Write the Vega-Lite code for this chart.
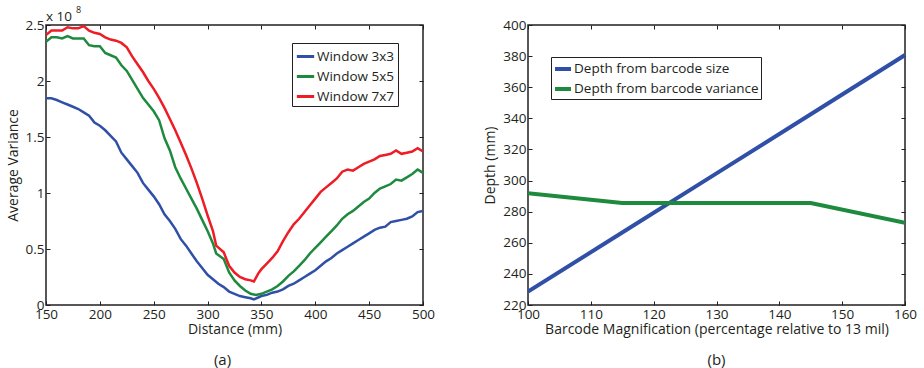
{
  "$schema": "https://vega.github.io/schema/vega-lite/v6.json",
  "background": "white",
  "padding": {"left": 5, "top": 5, "right": 5, "bottom": 0},
  "bounds": "flush",
  "spacing": 105,
  "resolve": {"scale": {"color": "independent"}, "legend": {"color": "independent"}},
  "config": {
    "font": "Open Sans",
    "view": {"stroke": "#231F20", "strokeWidth": 1.5},
    "axis": {
      "grid": false,
      "domain": false,
      "tickSize": -4,
      "tickColor": "#231F20",
      "tickWidth": 1,
      "labelPadding": 6,
      "labelColor": "#231F20",
      "labelFontSize": 13.5,
      "labelFlush": false,
      "labelOverlap": false,
      "titleColor": "#231F20",
      "titleFontSize": 14,
      "titleFontWeight": "normal"
    },
    "legend": {"labelLimit": 0},
    "title": {"fontSize": 15, "fontWeight": "normal", "color": "#231F20", "orient": "bottom", "frame": "group"}
  },
  "datasets": {
    "variance": [
      {"d": 150, "w": "Window 3x3", "v": 1.845}, {"d": 155, "w": "Window 3x3", "v": 1.845}, {"d": 160, "w": "Window 3x3", "v": 1.83}, {"d": 165, "w": "Window 3x3", "v": 1.81}, {"d": 170, "w": "Window 3x3", "v": 1.79}, {"d": 175, "w": "Window 3x3", "v": 1.77}, {"d": 180, "w": "Window 3x3", "v": 1.75}, {"d": 185, "w": "Window 3x3", "v": 1.72}, {"d": 190, "w": "Window 3x3", "v": 1.69}, {"d": 195, "w": "Window 3x3", "v": 1.63}, {"d": 200, "w": "Window 3x3", "v": 1.6}, {"d": 205, "w": "Window 3x3", "v": 1.56}, {"d": 210, "w": "Window 3x3", "v": 1.51}, {"d": 215, "w": "Window 3x3", "v": 1.46}, {"d": 220, "w": "Window 3x3", "v": 1.36}, {"d": 225, "w": "Window 3x3", "v": 1.3}, {"d": 230, "w": "Window 3x3", "v": 1.24}, {"d": 235, "w": "Window 3x3", "v": 1.18}, {"d": 240, "w": "Window 3x3", "v": 1.09}, {"d": 245, "w": "Window 3x3", "v": 1.03}, {"d": 250, "w": "Window 3x3", "v": 0.97}, {"d": 255, "w": "Window 3x3", "v": 0.9}, {"d": 260, "w": "Window 3x3", "v": 0.81}, {"d": 265, "w": "Window 3x3", "v": 0.75}, {"d": 270, "w": "Window 3x3", "v": 0.68}, {"d": 275, "w": "Window 3x3", "v": 0.59}, {"d": 280, "w": "Window 3x3", "v": 0.53}, {"d": 285, "w": "Window 3x3", "v": 0.46}, {"d": 290, "w": "Window 3x3", "v": 0.39}, {"d": 295, "w": "Window 3x3", "v": 0.33}, {"d": 300, "w": "Window 3x3", "v": 0.27}, {"d": 305, "w": "Window 3x3", "v": 0.23}, {"d": 310, "w": "Window 3x3", "v": 0.19}, {"d": 315, "w": "Window 3x3", "v": 0.16}, {"d": 320, "w": "Window 3x3", "v": 0.12}, {"d": 325, "w": "Window 3x3", "v": 0.1}, {"d": 330, "w": "Window 3x3", "v": 0.08}, {"d": 335, "w": "Window 3x3", "v": 0.07}, {"d": 340, "w": "Window 3x3", "v": 0.06}, {"d": 343, "w": "Window 3x3", "v": 0.05}, {"d": 350, "w": "Window 3x3", "v": 0.08}, {"d": 355, "w": "Window 3x3", "v": 0.09}, {"d": 360, "w": "Window 3x3", "v": 0.11}, {"d": 365, "w": "Window 3x3", "v": 0.12}, {"d": 370, "w": "Window 3x3", "v": 0.14}, {"d": 375, "w": "Window 3x3", "v": 0.17}, {"d": 380, "w": "Window 3x3", "v": 0.19}, {"d": 385, "w": "Window 3x3", "v": 0.22}, {"d": 390, "w": "Window 3x3", "v": 0.25}, {"d": 395, "w": "Window 3x3", "v": 0.28}, {"d": 400, "w": "Window 3x3", "v": 0.31}, {"d": 405, "w": "Window 3x3", "v": 0.35}, {"d": 410, "w": "Window 3x3", "v": 0.39}, {"d": 415, "w": "Window 3x3", "v": 0.42}, {"d": 420, "w": "Window 3x3", "v": 0.46}, {"d": 425, "w": "Window 3x3", "v": 0.49}, {"d": 430, "w": "Window 3x3", "v": 0.52}, {"d": 435, "w": "Window 3x3", "v": 0.55}, {"d": 440, "w": "Window 3x3", "v": 0.58}, {"d": 445, "w": "Window 3x3", "v": 0.61}, {"d": 450, "w": "Window 3x3", "v": 0.64}, {"d": 455, "w": "Window 3x3", "v": 0.67}, {"d": 460, "w": "Window 3x3", "v": 0.69}, {"d": 465, "w": "Window 3x3", "v": 0.7}, {"d": 470, "w": "Window 3x3", "v": 0.74}, {"d": 475, "w": "Window 3x3", "v": 0.75}, {"d": 480, "w": "Window 3x3", "v": 0.76}, {"d": 485, "w": "Window 3x3", "v": 0.77}, {"d": 490, "w": "Window 3x3", "v": 0.79}, {"d": 495, "w": "Window 3x3", "v": 0.83}, {"d": 500, "w": "Window 3x3", "v": 0.84},
      {"d": 150, "w": "Window 5x5", "v": 2.35}, {"d": 155, "w": "Window 5x5", "v": 2.39}, {"d": 160, "w": "Window 5x5", "v": 2.39}, {"d": 165, "w": "Window 5x5", "v": 2.38}, {"d": 170, "w": "Window 5x5", "v": 2.4}, {"d": 175, "w": "Window 5x5", "v": 2.38}, {"d": 180, "w": "Window 5x5", "v": 2.38}, {"d": 185, "w": "Window 5x5", "v": 2.38}, {"d": 190, "w": "Window 5x5", "v": 2.32}, {"d": 195, "w": "Window 5x5", "v": 2.31}, {"d": 200, "w": "Window 5x5", "v": 2.31}, {"d": 205, "w": "Window 5x5", "v": 2.25}, {"d": 210, "w": "Window 5x5", "v": 2.23}, {"d": 215, "w": "Window 5x5", "v": 2.21}, {"d": 220, "w": "Window 5x5", "v": 2.14}, {"d": 225, "w": "Window 5x5", "v": 2.09}, {"d": 230, "w": "Window 5x5", "v": 2.01}, {"d": 235, "w": "Window 5x5", "v": 1.93}, {"d": 240, "w": "Window 5x5", "v": 1.85}, {"d": 245, "w": "Window 5x5", "v": 1.79}, {"d": 250, "w": "Window 5x5", "v": 1.73}, {"d": 255, "w": "Window 5x5", "v": 1.65}, {"d": 260, "w": "Window 5x5", "v": 1.49}, {"d": 265, "w": "Window 5x5", "v": 1.38}, {"d": 270, "w": "Window 5x5", "v": 1.23}, {"d": 275, "w": "Window 5x5", "v": 1.13}, {"d": 280, "w": "Window 5x5", "v": 1.04}, {"d": 285, "w": "Window 5x5", "v": 0.95}, {"d": 290, "w": "Window 5x5", "v": 0.86}, {"d": 295, "w": "Window 5x5", "v": 0.76}, {"d": 300, "w": "Window 5x5", "v": 0.66}, {"d": 305, "w": "Window 5x5", "v": 0.55}, {"d": 308, "w": "Window 5x5", "v": 0.46}, {"d": 315, "w": "Window 5x5", "v": 0.41}, {"d": 320, "w": "Window 5x5", "v": 0.29}, {"d": 325, "w": "Window 5x5", "v": 0.22}, {"d": 330, "w": "Window 5x5", "v": 0.17}, {"d": 335, "w": "Window 5x5", "v": 0.13}, {"d": 340, "w": "Window 5x5", "v": 0.1}, {"d": 345, "w": "Window 5x5", "v": 0.09}, {"d": 350, "w": "Window 5x5", "v": 0.1}, {"d": 355, "w": "Window 5x5", "v": 0.12}, {"d": 360, "w": "Window 5x5", "v": 0.14}, {"d": 365, "w": "Window 5x5", "v": 0.17}, {"d": 370, "w": "Window 5x5", "v": 0.21}, {"d": 375, "w": "Window 5x5", "v": 0.26}, {"d": 380, "w": "Window 5x5", "v": 0.3}, {"d": 385, "w": "Window 5x5", "v": 0.35}, {"d": 390, "w": "Window 5x5", "v": 0.4}, {"d": 395, "w": "Window 5x5", "v": 0.46}, {"d": 400, "w": "Window 5x5", "v": 0.51}, {"d": 405, "w": "Window 5x5", "v": 0.56}, {"d": 410, "w": "Window 5x5", "v": 0.61}, {"d": 415, "w": "Window 5x5", "v": 0.66}, {"d": 420, "w": "Window 5x5", "v": 0.71}, {"d": 425, "w": "Window 5x5", "v": 0.77}, {"d": 430, "w": "Window 5x5", "v": 0.81}, {"d": 435, "w": "Window 5x5", "v": 0.84}, {"d": 440, "w": "Window 5x5", "v": 0.88}, {"d": 445, "w": "Window 5x5", "v": 0.92}, {"d": 450, "w": "Window 5x5", "v": 0.95}, {"d": 455, "w": "Window 5x5", "v": 1.0}, {"d": 460, "w": "Window 5x5", "v": 1.04}, {"d": 465, "w": "Window 5x5", "v": 1.06}, {"d": 470, "w": "Window 5x5", "v": 1.08}, {"d": 475, "w": "Window 5x5", "v": 1.12}, {"d": 480, "w": "Window 5x5", "v": 1.11}, {"d": 485, "w": "Window 5x5", "v": 1.14}, {"d": 490, "w": "Window 5x5", "v": 1.17}, {"d": 495, "w": "Window 5x5", "v": 1.21}, {"d": 500, "w": "Window 5x5", "v": 1.18},
      {"d": 150, "w": "Window 7x7", "v": 2.41}, {"d": 155, "w": "Window 7x7", "v": 2.45}, {"d": 160, "w": "Window 7x7", "v": 2.45}, {"d": 165, "w": "Window 7x7", "v": 2.45}, {"d": 170, "w": "Window 7x7", "v": 2.48}, {"d": 175, "w": "Window 7x7", "v": 2.47}, {"d": 180, "w": "Window 7x7", "v": 2.47}, {"d": 185, "w": "Window 7x7", "v": 2.49}, {"d": 190, "w": "Window 7x7", "v": 2.45}, {"d": 195, "w": "Window 7x7", "v": 2.43}, {"d": 200, "w": "Window 7x7", "v": 2.42}, {"d": 205, "w": "Window 7x7", "v": 2.39}, {"d": 210, "w": "Window 7x7", "v": 2.37}, {"d": 215, "w": "Window 7x7", "v": 2.36}, {"d": 220, "w": "Window 7x7", "v": 2.34}, {"d": 225, "w": "Window 7x7", "v": 2.3}, {"d": 230, "w": "Window 7x7", "v": 2.22}, {"d": 235, "w": "Window 7x7", "v": 2.15}, {"d": 240, "w": "Window 7x7", "v": 2.08}, {"d": 245, "w": "Window 7x7", "v": 2.0}, {"d": 250, "w": "Window 7x7", "v": 1.93}, {"d": 255, "w": "Window 7x7", "v": 1.85}, {"d": 260, "w": "Window 7x7", "v": 1.76}, {"d": 265, "w": "Window 7x7", "v": 1.66}, {"d": 270, "w": "Window 7x7", "v": 1.56}, {"d": 275, "w": "Window 7x7", "v": 1.45}, {"d": 280, "w": "Window 7x7", "v": 1.34}, {"d": 285, "w": "Window 7x7", "v": 1.22}, {"d": 290, "w": "Window 7x7", "v": 1.09}, {"d": 295, "w": "Window 7x7", "v": 0.95}, {"d": 300, "w": "Window 7x7", "v": 0.8}, {"d": 305, "w": "Window 7x7", "v": 0.66}, {"d": 308, "w": "Window 7x7", "v": 0.53}, {"d": 315, "w": "Window 7x7", "v": 0.47}, {"d": 320, "w": "Window 7x7", "v": 0.35}, {"d": 325, "w": "Window 7x7", "v": 0.29}, {"d": 330, "w": "Window 7x7", "v": 0.25}, {"d": 335, "w": "Window 7x7", "v": 0.23}, {"d": 340, "w": "Window 7x7", "v": 0.22}, {"d": 343, "w": "Window 7x7", "v": 0.21}, {"d": 347, "w": "Window 7x7", "v": 0.28}, {"d": 350, "w": "Window 7x7", "v": 0.32}, {"d": 355, "w": "Window 7x7", "v": 0.37}, {"d": 360, "w": "Window 7x7", "v": 0.42}, {"d": 365, "w": "Window 7x7", "v": 0.48}, {"d": 370, "w": "Window 7x7", "v": 0.57}, {"d": 375, "w": "Window 7x7", "v": 0.65}, {"d": 380, "w": "Window 7x7", "v": 0.72}, {"d": 385, "w": "Window 7x7", "v": 0.77}, {"d": 390, "w": "Window 7x7", "v": 0.83}, {"d": 395, "w": "Window 7x7", "v": 0.89}, {"d": 400, "w": "Window 7x7", "v": 0.95}, {"d": 405, "w": "Window 7x7", "v": 1.01}, {"d": 410, "w": "Window 7x7", "v": 1.05}, {"d": 415, "w": "Window 7x7", "v": 1.09}, {"d": 420, "w": "Window 7x7", "v": 1.13}, {"d": 425, "w": "Window 7x7", "v": 1.19}, {"d": 430, "w": "Window 7x7", "v": 1.21}, {"d": 435, "w": "Window 7x7", "v": 1.2}, {"d": 440, "w": "Window 7x7", "v": 1.23}, {"d": 445, "w": "Window 7x7", "v": 1.26}, {"d": 450, "w": "Window 7x7", "v": 1.28}, {"d": 455, "w": "Window 7x7", "v": 1.3}, {"d": 460, "w": "Window 7x7", "v": 1.33}, {"d": 465, "w": "Window 7x7", "v": 1.34}, {"d": 470, "w": "Window 7x7", "v": 1.35}, {"d": 475, "w": "Window 7x7", "v": 1.38}, {"d": 480, "w": "Window 7x7", "v": 1.35}, {"d": 485, "w": "Window 7x7", "v": 1.36}, {"d": 490, "w": "Window 7x7", "v": 1.37}, {"d": 495, "w": "Window 7x7", "v": 1.4}, {"d": 500, "w": "Window 7x7", "v": 1.37}
    ],
    "depth": [
      {"m": 100, "s": "Depth from barcode size", "depth": 228.6},
      {"m": 115, "s": "Depth from barcode size", "depth": 266.6},
      {"m": 130, "s": "Depth from barcode size", "depth": 304.6},
      {"m": 145, "s": "Depth from barcode size", "depth": 342.6},
      {"m": 160, "s": "Depth from barcode size", "depth": 380.7},
      {"m": 100, "s": "Depth from barcode variance", "depth": 291.8},
      {"m": 115, "s": "Depth from barcode variance", "depth": 285.6},
      {"m": 130, "s": "Depth from barcode variance", "depth": 285.6},
      {"m": 145, "s": "Depth from barcode variance", "depth": 285.6},
      {"m": 160, "s": "Depth from barcode variance", "depth": 272.9}
    ]
  },
  "hconcat": [
    {
      "width": 377,
      "height": 280,
      "title": {"text": "(a)", "dx": -12, "offset": 16},
      "layer": [
        {
          "data": {"name": "variance"},
          "mark": {"type": "line", "strokeWidth": 2.5, "clip": true},
          "encoding": {
            "x": {"field": "d", "type": "quantitative", "scale": {"domain": [150, 500], "nice": false}, "axis": {"values": [150, 200, 250, 300, 350, 400, 450, 500], "title": "Distance (mm)", "titlePadding": 2}},
            "y": {"field": "v", "type": "quantitative", "scale": {"domain": [0, 2.5], "nice": false}, "axis": {"values": [0, 0.5, 1, 1.5, 2, 2.5], "format": "~g", "title": "Average Variance", "titlePadding": 5}},
            "color": {
              "field": "w", "type": "nominal",
              "scale": {"domain": ["Window 3x3", "Window 5x5", "Window 7x7"], "range": ["#3050A8", "#1E8A3E", "#EE1C24"]},
              "legend": {"title": null, "orient": "none", "legendX": 246, "legendY": 18, "strokeColor": "#231F20", "fillColor": "white", "padding": 3, "symbolType": "stroke", "symbolStrokeWidth": 3, "symbolSize": 300, "rowPadding": 3, "labelFontSize": 13.5, "labelColor": "#231F20", "labelOffset": 1}
            }
          }
        },
        {
          "data": {"name": "variance"},
          "mark": {"type": "line", "strokeOpacity": 0},
          "encoding": {
            "x": {"field": "d", "type": "quantitative", "scale": {"domain": [150, 500], "nice": false}, "axis": {"orient": "top", "values": [150, 200, 250, 300, 350, 400, 450, 500], "labels": false, "title": null}},
            "y": {"field": "v", "type": "quantitative", "scale": {"domain": [0, 2.5], "nice": false}, "axis": {"orient": "right", "values": [0, 0.5, 1, 1.5, 2, 2.5], "labels": false, "title": null}}
          }
        },
        {
          "data": {"values": [{}]},
          "mark": {"type": "text", "align": "left", "baseline": "alphabetic", "dy": -4, "fontSize": 13.5, "color": "#231F20"},
          "encoding": {"x": {"datum": 150, "axis": null}, "y": {"datum": 2.5, "axis": null}, "text": {"value": "x 10"}}
        },
        {
          "data": {"values": [{}]},
          "mark": {"type": "text", "align": "left", "baseline": "alphabetic", "dx": 30, "dy": -12, "fontSize": 9, "color": "#231F20"},
          "encoding": {"x": {"datum": 150, "axis": null}, "y": {"datum": 2.5, "axis": null}, "text": {"value": "8"}}
        }
      ],
      "resolve": {"axis": {"x": "independent", "y": "independent"}}
    },
    {
      "width": 377,
      "height": 280,
      "title": {"text": "(b)", "offset": 16},
      "data": {"name": "depth"},
      "layer": [
        {
          "mark": {"type": "line", "strokeWidth": 4, "clip": true},
          "encoding": {
            "x": {"field": "m", "type": "quantitative", "scale": {"domain": [100, 160], "nice": false}, "axis": {"values": [100, 110, 120, 130, 140, 150, 160], "title": "Barcode Magnification (percentage relative to 13 mil)", "titlePadding": 2}},
            "y": {"field": "depth", "type": "quantitative", "scale": {"domain": [220, 400], "nice": false}, "axis": {"values": [220, 240, 260, 280, 300, 320, 340, 360, 380, 400], "title": "Depth (mm)", "titlePadding": 5}},
            "color": {
              "field": "s", "type": "nominal",
              "scale": {"domain": ["Depth from barcode size", "Depth from barcode variance"], "range": ["#3050A8", "#1E8A3E"]},
              "legend": {"title": null, "orient": "none", "legendX": 23, "legendY": 32, "strokeColor": "#231F20", "fillColor": "white", "padding": 2, "symbolType": "stroke", "symbolStrokeWidth": 4, "symbolSize": 256, "rowPadding": 2, "labelFontSize": 13.5, "labelColor": "#231F20", "labelOffset": 1}
            }
          }
        },
        {
          "mark": {"type": "line", "strokeOpacity": 0},
          "encoding": {
            "x": {"field": "m", "type": "quantitative", "scale": {"domain": [100, 160], "nice": false}, "axis": {"orient": "top", "values": [100, 110, 120, 130, 140, 150, 160], "labels": false, "title": null}},
            "y": {"field": "depth", "type": "quantitative", "scale": {"domain": [220, 400], "nice": false}, "axis": {"orient": "right", "values": [220, 240, 260, 280, 300, 320, 340, 360, 380, 400], "labels": false, "title": null}}
          }
        }
      ],
      "resolve": {"axis": {"x": "independent", "y": "independent"}}
    }
  ]
}
